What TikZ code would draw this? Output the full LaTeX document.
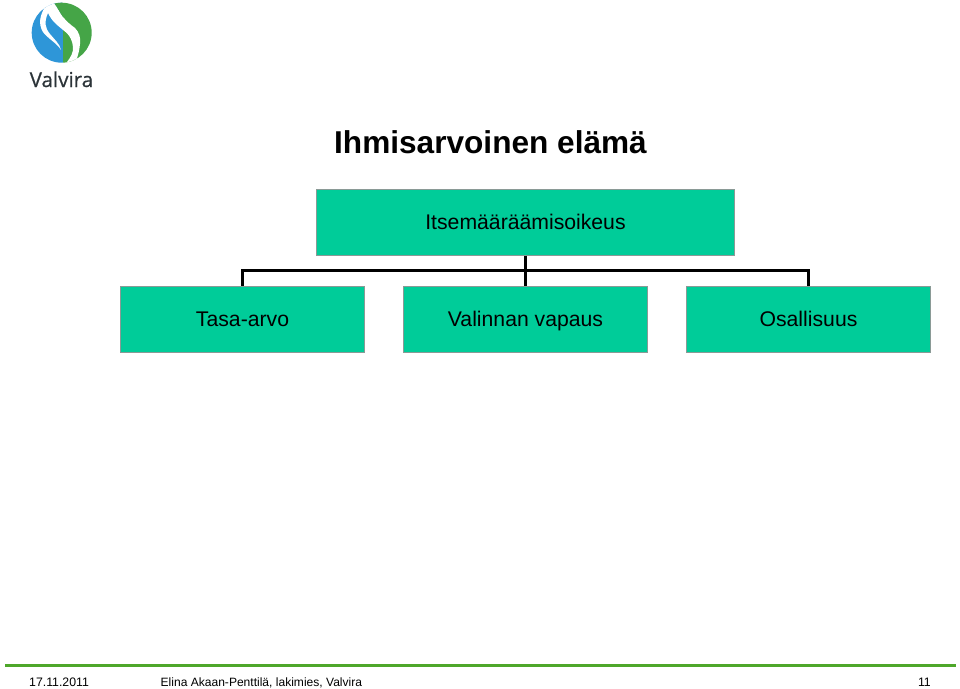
\documentclass[tikz,border=0pt]{standalone}
\usepackage{fontspec}
\setmainfont{Liberation Sans}
\newfontfamily\logofont[FakeBold=0.5]{Open Sans}
\definecolor{boxfill}{HTML}{00CC99}
\definecolor{boxedge}{HTML}{8A9A96}
\definecolor{rulegreen}{HTML}{4EA72A}
\definecolor{logoblue}{HTML}{2E96D8}
\definecolor{logogreen}{HTML}{45A547}
\definecolor{logotext}{HTML}{2B3338}
\tikzset{
  orgbox/.style={draw=boxedge,line width=1pt,fill=boxfill,minimum height=66pt,inner sep=0pt,font=\fontsize{21.2}{26}\selectfont,text=black,text height=15pt,text depth=0pt},
  link/.style={draw=black,line width=2.8pt},
  foot/.style={inner sep=0pt,text=black}
}
\begin{document}
\begin{tikzpicture}[x=1pt,y=-1pt]
\useasboundingbox (0,0) rectangle (960,688);
\fill[white] (0,0) rectangle (960,688);
% logo
\begin{scope}
\clip (61.7,32.7) circle (30);
\fill[logoblue] (20,0) rectangle (62.5,70);
\fill[logogreen] (62.5,0) rectangle (100,70);
% white band between the middle swoosh and the upper green
\fill[white] (53,0) -- (54,3) .. controls (58,8) and (60,13) .. (63,17)
  .. controls (67,22) and (71,25) .. (75,28)
  .. controls (79,32) and (81,38) .. (80,44)
  .. controls (79.5,50) and (78,55) .. (76.5,60)
  -- (76,70) -- (66,70) -- (67,62)
  .. controls (71,57) and (73.5,52) .. (73,47)
  .. controls (72.5,41) and (70,36) .. (66.7,33)
  .. controls (62,29) and (58,26) .. (55,23)
  .. controls (52,20) and (50,17) .. (48,13)
  -- (44,0) -- cycle;
\fill[logogreen] (50,0) -- (54,3) .. controls (58,8) and (60,13) .. (63,17) -- (63,0) -- cycle;
% white band between the left blue and the middle swoosh
\fill[white] (40,0) -- (45,7)
  .. controls (40,15) and (38,24) .. (43,32)
  .. controls (47,38) and (57,43) .. (61,50)
  .. controls (60,44) and (54,39) .. (50,34)
  .. controls (45,28) and (44,22) .. (48,13)
  -- (50,0) -- cycle;
\end{scope}
\node[anchor=base west,inner sep=0pt,font=\logofont\fontsize{20.6}{26}\selectfont,text=logotext] (logotxt) at (29.5,87) {Valvira};
\node[anchor=center,font=\bfseries\fontsize{31.6}{38}\selectfont,text=black] (title) at (490.5,142) {Ihmisarvoinen elämä};
\node[orgbox,minimum width=418pt] (top) at (525.5,222) {Itsemääräämisoikeus};
\node[orgbox,minimum width=244pt] (a) at (242.5,319) {Tasa-arvo};
\node[orgbox,minimum width=244pt] (b) at (525.5,319) {Valinnan vapaus};
\node[orgbox,minimum width=244pt] (c) at (808.5,319) {Osallisuus};
\coordinate (bus) at (525.5,270.5);
\draw[link] (top.south) -- (b.north);
\draw[link] (a.north) |- (bus) -| (c.north);
\coordinate (ruleL) at (5,665);
\coordinate (ruleR) at (956,665);
\draw[rulegreen,line width=3pt] (ruleL) -- (ruleR);
\node[foot,anchor=base west,font=\fontsize{12.3}{15}\selectfont] (date) at (29,686.5) {17.11.2011};
\node[foot,anchor=base west,font=\fontsize{12.05}{15}\selectfont] (author) at (160.5,686.5) {Elina Akaan-Penttilä, lakimies, Valvira};
\node[foot,anchor=base east,font=\fontsize{12.3}{15}\selectfont] (page) at (931,686.5) {11};
\end{tikzpicture}
\end{document}
